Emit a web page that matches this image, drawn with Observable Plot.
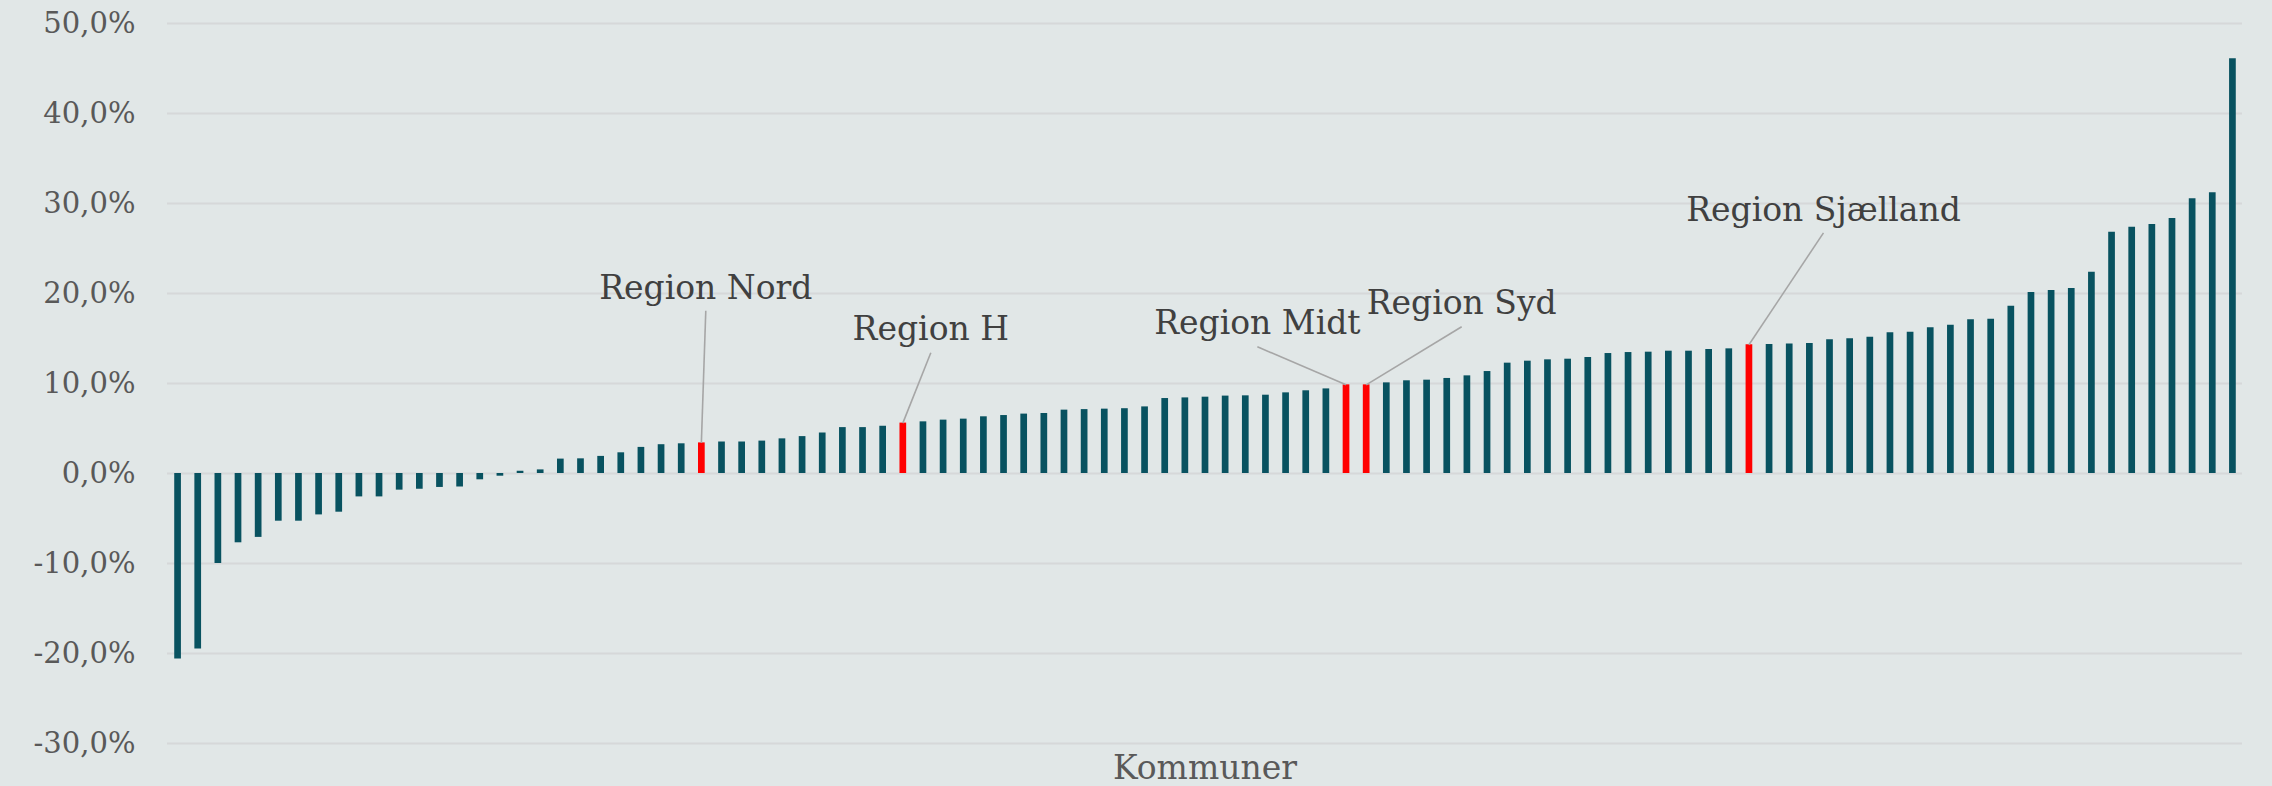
<!DOCTYPE html>
<html>
<head>
<meta charset="utf-8">
<script src="https://cdn.jsdelivr.net/npm/d3@7"></script>
<script src="https://cdn.jsdelivr.net/npm/@observablehq/plot@0.6"></script>
<style>
  html, body { margin: 0; padding: 0; background: #e1e7e7; }
  #chart svg { display: block; }
</style>
</head>
<body>
<div id="chart"></div>
<script>
// Values per bar (sorted), percent
const values = [
  -20.6, -19.5, -10.0, -7.7, -7.1, -5.3, -5.3, -4.6, -4.3, -2.6,
  -2.6, -1.85, -1.75, -1.55, -1.5, -0.7, -0.3, 0.25, 0.4, 1.6,
  1.63, 1.9, 2.3, 2.9, 3.2, 3.3, 3.4, 3.5, 3.5, 3.6,
  3.85, 4.1, 4.5, 5.1, 5.1, 5.25, 5.6, 5.74, 5.93, 6.04,
  6.3, 6.44, 6.6, 6.67, 7.04, 7.1, 7.15, 7.2, 7.4, 8.33,
  8.4, 8.48, 8.6, 8.63, 8.7, 8.96, 9.19, 9.4, 9.85, 9.85,
  10.07, 10.3, 10.37, 10.56, 10.85, 11.33, 12.26, 12.48, 12.63, 12.7,
  12.89, 13.33, 13.44, 13.48, 13.59, 13.59, 13.78, 13.85, 14.3, 14.33,
  14.4, 14.44, 14.85, 14.96, 15.15, 15.63, 15.7, 16.19, 16.48, 17.07,
  17.15, 18.59, 20.11, 20.33, 20.56, 22.37, 26.81, 27.37, 27.67, 28.33,
  30.52, 31.19, 46.07
];

// Region bars (1-based position in the sorted list) and their names
const regionNames = ["Region Nord", "Region H", "Region Midt", "Region Syd", "Region Sjælland"];
const regionBars = [27, 37, 59, 60, 79];

// Y tick values
const yTicks = [-30, -20, -10, 0, 10, 20, 30, 40, 50];
const xLabel = "Kommuner";

// Annotation placement (layout, in scale units): label centre x, baseline y, leader start y
const labelX = [27.22, 38.39, 54.6, 64.74, 82.7];
const labelY = [19.41, 14.86, 15.52, 17.74, 28.08];
const leaderY = [18.08, 13.41, 14.08, 16.3, 26.74];

const bars = values.map((v, k) => ({i: k + 1, v, region: regionBars.includes(k + 1)}));
const notes = regionNames.map((name, k) => ({
  name,
  bar: regionBars[k],
  v: values[regionBars[k] - 1],
  lx: labelX[k],
  ly: labelY[k],
  sy: leaderY[k]
}));

const FONT = "'DejaVu Serif', Georgia, serif";

const chart = Plot.plot({
  width: 2272,
  height: 786,
  marginLeft: 167,
  marginRight: 30,
  marginTop: 23,
  marginBottom: 43,
  style: {background: "#e1e7e7", fontFamily: FONT},
  x: {type: "linear", domain: [0.5, values.length + 0.5], axis: null},
  y: {domain: [-30, 50], axis: null},
  marks: [
    Plot.gridY(yTicks, {stroke: "#d6d8d9", strokeOpacity: 1, strokeWidth: 2}),
    Plot.axisY(yTicks, {
      tickSize: 0,
      tickPadding: 32,
      fontSize: 29,
      fill: "#595959",
      tickFormat: d => d.toFixed(1).replace(".", ",") + "%",
      label: null
    }),
    Plot.ruleX(bars, {
      x: "i",
      y1: 0,
      y2: "v",
      strokeWidth: 6.7,
      stroke: d => d.region ? "#ff0000" : "#085260"
    }),
    Plot.link(notes, {
      x1: "lx", y1: "sy",
      x2: "bar", y2: "v",
      stroke: "#a6a6a6",
      strokeWidth: 1.6
    }),
    Plot.text(notes, {
      x: "lx", y: "ly",
      text: "name",
      lineAnchor: "bottom",
      textAnchor: "middle",
      fontSize: 33,
      fill: "#404040"
    }),
    Plot.text([xLabel], {
      frameAnchor: "bottom",
      dy: 35,
      lineAnchor: "bottom",
      text: d => d,
      fontSize: 33,
      fill: "#595959"
    })
  ]
});

document.getElementById("chart").appendChild(chart);
</script>
</body>
</html>
